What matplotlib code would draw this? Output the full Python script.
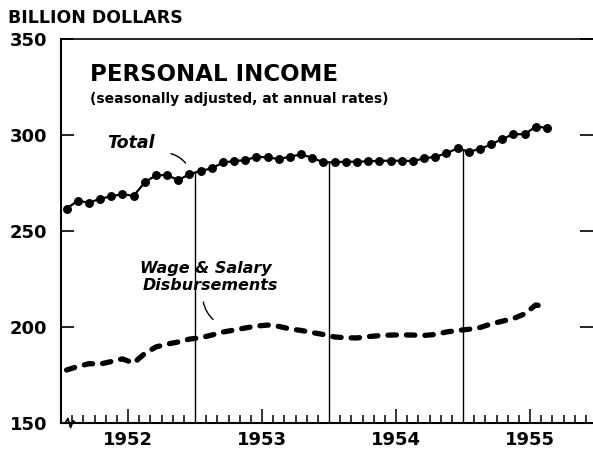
import numpy as np
import matplotlib
matplotlib.use("Agg")
import matplotlib.pyplot as plt

# monthly values, billion dollars (Jan 1952 - Aug 1955)
total = [261.7, 265.7, 264.8, 266.7, 268.1, 269.2, 268.3, 275.3, 279.1, 279.1, 276.5, 279.6,
         281.3, 282.6, 285.7, 286.4, 286.9, 288.7, 288.3, 287.5, 288.7, 289.9, 288.1, 285.7,
         285.8, 286.1, 286.1, 286.3, 286.6, 286.6, 286.6, 286.4, 287.8, 288.7, 290.4, 293.1,
         291.3, 292.7, 295.1, 297.9, 300.4, 300.4, 304.3, 303.8]
wages = [177.6, 179.4, 180.9, 180.7, 182.0, 183.4, 181.2, 186.2, 189.6, 191.1, 192.2, 193.7,
         194.4, 195.8, 197.4, 198.4, 199.5, 200.5, 201.0, 200.3, 199.0, 198.2, 197.1, 196.1,
         194.8, 194.4, 194.3, 195.0, 195.5, 195.8, 195.9, 195.8, 195.6, 196.1, 197.4, 198.2,
         198.8, 199.7, 201.6, 203.0, 204.4, 206.8, 211.5, 210.4]
years = ["1952", "1953", "1954", "1955"]
year_breaks = [12, 24, 36]

months = np.arange(len(total)) + 0.5

fig = plt.figure(figsize=(5.93, 4.5), dpi=100)
ax = fig.add_axes([61 / 593, 27 / 450, 532 / 593, 384 / 450])

ax.plot(months, total, color="black", lw=1.6, marker="o", ms=5.4)
ax.plot(months, wages, color="black", lw=3.8, linestyle=(0, (1.6, 1.9)),
        dash_capstyle="round")

# year dividers up to the total line
for b in year_breaks:
    ax.plot([b, b], [150, np.interp(b, months, total)], color="black", lw=1.0)

ax.set_xlim(0, 532 / 11.17)
ax.set_ylim(150, 350)

ax.spines["right"].set_visible(False)
for s in ["left", "bottom"]:
    ax.spines[s].set_linewidth(1.5)
ax.spines["top"].set_linewidth(1.2)

ax.set_yticks([150, 200, 250, 300, 350])
ax.tick_params(axis="y", direction="in", length=9.5, width=1.2, labelsize=13, pad=10,
               right=True)
for lab in ax.get_yticklabels():
    lab.set_fontweight("bold")

ax.set_xticks([6, 18, 30, 42])
ax.set_xticklabels(years, fontsize=13, fontweight="bold")
ax.set_xticks([m for m in range(1, 48) if m % 6 != 0], minor=True)
ax.tick_params(axis="x", which="major", direction="in", length=10, width=1.1, pad=6)
ax.tick_params(axis="x", which="minor", direction="in", length=6, width=1.1)

# axis break squiggle
ax.plot([0.008, 0.013, 0.018, 0.023, 0.027], [0.0, 0.012, -0.012, 0.006, 0.0],
        transform=ax.transAxes, color="black", lw=1.2, clip_on=False)

fig.text(8 / 593, 1 - 18 / 450, "BILLION DOLLARS", fontsize=12.5, va="center",
         fontweight="semibold")
ax.text(2.6, 331.5, "PERSONAL INCOME", fontsize=16.5, fontweight="bold", va="center")
ax.text(2.6, 318.8, "(seasonally adjusted, at annual rates)", fontsize=10,
        fontweight="bold", va="center")

ax.text(4.1, 295.8, "Total", fontsize=12.5, fontweight="bold", style="italic",
        va="center")
ax.annotate("", xy=(11.3, 284.3), xytext=(9.6, 290.6),
            arrowprops=dict(arrowstyle="-", color="black", lw=1.0,
                            connectionstyle="arc3,rad=-0.2"))

ax.text(13.0, 230.5, "Wage & Salary", fontsize=11.5, fontweight="bold", style="italic",
        va="center", ha="center")
ax.text(13.4, 221.6, "Disbursements", fontsize=11.5, fontweight="bold", style="italic",
        va="center", ha="center")
ax.annotate("", xy=(13.8, 203.0), xytext=(12.7, 214.4),
            arrowprops=dict(arrowstyle="-", color="black", lw=1.0,
                            connectionstyle="arc3,rad=0.2"))

fig.savefig("out.png", dpi=100)
